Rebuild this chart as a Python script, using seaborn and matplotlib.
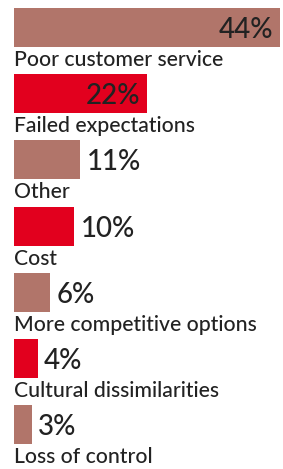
#Importing libraries
import matplotlib
matplotlib.use("Agg")
import matplotlib.pyplot as plt
import seaborn as sns
import pandas as pd

#Chart data
Categories = ["Poor customer service", "Failed expectations", "Other", "Cost",
              "More competitive options", "Cultural dissimilarities", "Loss of control"]
Values = [44, 22, 11, 10, 6, 4, 3]
ValueLabels = ["44%", "22%", "11%", "10%", "6%", "4%", "3%"]
BrownColour = "#b1756a"
RedColour = "#e2001e"
BarColours = [BrownColour, RedColour, BrownColour, RedColour, BrownColour, RedColour, BrownColour]

DataFrame = pd.DataFrame({"Reason": Categories, "Share": Values})

sns.set_theme(style="white")
plt.rcParams["font.family"] = ["Lato", "DejaVu Sans"]

fig = plt.figure(figsize=(2.83, 4.69), dpi=100)
ax = fig.add_axes([0, 0, 1, 1])

#Horizontal bars, one per reason
sns.barplot(data=DataFrame, x="Share", y="Reason", hue="Reason", palette=BarColours,
            legend=False, width=0.59, orient="h", ax=ax, saturation=1, linewidth=0)

#Placing the axis so that bars line up with the reference
ax.set_xlim(-14 / 6.045, (283 - 14) / 6.045)
ax.set_ylim(6.669, -0.415)
ax.axis("off")

TextColour = "#222222"
for i, (value, label, name) in enumerate(zip(Values, ValueLabels, Categories)):
    #Category name under each bar
    ax.text(0, i + 0.582, name, ha="left", va="baseline", fontsize=15.2,
            color=TextColour, fontweight="medium")
    #Value label, inside long bars and outside short ones
    if value > 15:
        ax.annotate(label, (value, i), xytext=(-7, 0), textcoords="offset pixels",
                    ha="right", va="center_baseline", fontsize=20, color=TextColour,
                    fontweight="medium")
    else:
        ax.annotate(label, (value, i), xytext=(6, 0), textcoords="offset pixels",
                    ha="left", va="center_baseline", fontsize=20, color=TextColour,
                    fontweight="medium")

fig.savefig("out.png", dpi=100)
